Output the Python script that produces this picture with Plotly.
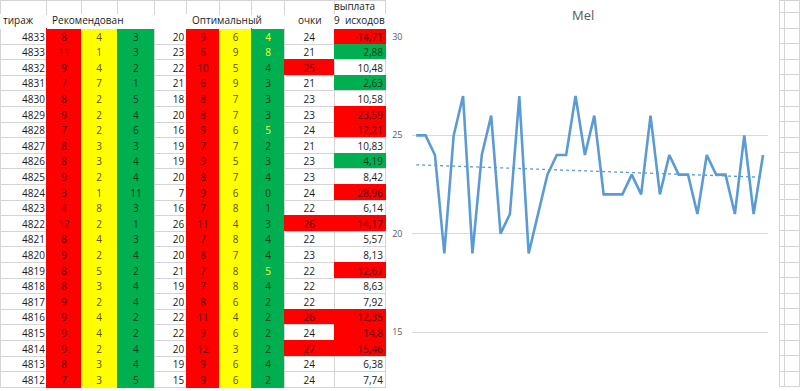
import numpy as np
import plotly.graph_objects as go

# ---------------- data ----------------
tirazh = [4833, 4833, 4832, 4831, 4830, 4829, 4828, 4827, 4826, 4825, 4824, 4823,
          4822, 4821, 4820, 4819, 4818, 4817, 4816, 4815, 4814, 4813, 4812]
rec_red = [8, 11, 9, 7, 8, 9, 7, 8, 8, 9, 3, 4, 12, 8, 9, 8, 8, 9, 9, 9, 9, 8, 7]
rec_yellow = [4, 1, 4, 7, 2, 2, 2, 3, 3, 2, 1, 8, 2, 4, 2, 5, 3, 2, 4, 4, 2, 3, 3]
rec_green = [3, 3, 2, 1, 5, 4, 6, 3, 4, 4, 11, 3, 1, 3, 4, 2, 4, 4, 2, 2, 4, 4, 5]
rec_points = [20, 23, 22, 21, 18, 20, 16, 19, 19, 20, 7, 16, 26, 20, 20, 21, 19, 20, 22, 22, 20, 19, 15]
opt_red = [9, 6, 10, 6, 8, 8, 9, 7, 9, 8, 9, 7, 11, 7, 8, 7, 7, 8, 11, 9, 12, 9, 9]
opt_yellow = [6, 9, 5, 9, 7, 7, 6, 7, 5, 7, 6, 8, 4, 8, 7, 8, 8, 6, 4, 6, 3, 6, 6]
opt_green = [4, 8, 4, 3, 3, 3, 5, 2, 3, 4, 0, 1, 3, 4, 4, 5, 4, 2, 2, 2, 2, 4, 2]
opt_green_marked = [0, 1, 6, 15]
ochki = [24, 21, 25, 21, 23, 23, 24, 21, 23, 23, 24, 22, 26, 22, 23, 22, 22, 22, 26, 24, 27, 24, 24]
vyplata = [14.71, 2.88, 10.48, 2.63, 10.58, 23.59, 12.21, 10.83, 4.19, 8.42, 28.96, 6.14,
           14.17, 5.57, 8.13, 12.67, 8.63, 7.92, 12.35, 14.8, 15.46, 6.38, 7.74]
header_labels = ["тираж", "Рекомендован", "Оптимальный", "очки", "9\u00a0 исходов", "выплата"]

mel = [25, 25, 24, 19, 25, 27, 19, 24, 26, 20, 21, 27, 19, 21, 23, 24, 24, 27, 24, 26,
       22, 22, 22, 23, 22, 26, 22, 24, 23, 23, 21, 24, 23, 23, 21, 25, 21, 24]
y_ticks = [15, 20, 25, 30]
chart_title = "Mel"

# ---------------- styles ----------------
W, H = 800, 391
RED, YEL, GRN, WHITE = "#FF0000", "#FFFF00", "#00B050", "#FFFFFF"
CLEAR = "rgba(0,0,0,0)"
GRID = "#D4D4D4"
T_RED, T_YEL, T_GRN, T_DARK = "#5C0000", "#5A5000", "#0A3A18", "#1A1A1A"
FONT = "Open Sans"

n = len(tirazh)


def fmt(v):
    return f"{v:g}".replace(".", ",")


def col(color):
    return [color] * n


ochki_fill = [RED if v >= 25 else WHITE for v in ochki]
ochki_text = [T_RED if v >= 25 else T_DARK for v in ochki]
vyp_fill = [RED if v > 12 else (GRN if v < 5 else WHITE) for v in vyplata]
vyp_text = [T_RED if v > 12 else (T_GRN if v < 5 else T_DARK) for v in vyplata]
opt_green_text = ["#FFFF33" if i in opt_green_marked else T_GRN for i in range(n)]

fills = [col(WHITE), col(RED), col(YEL), col(GRN), col(WHITE), col(RED), col(YEL), col(GRN),
         ochki_fill, vyp_fill]
lines = [[GRID if c == WHITE else c for c in f] for f in fills]
texts = [col(T_DARK), col(T_RED), col(T_YEL), col(T_GRN), col(T_DARK), col(T_RED), col(T_YEL),
         opt_green_text, ochki_text, vyp_text]
values = [tirazh, rec_red, rec_yellow, rec_green, rec_points, opt_red, opt_yellow, opt_green,
          ochki, [fmt(v) for v in vyplata]]

# spreadsheet column edges (px)
bounds = [0, 47, 81.3, 117.3, 155, 186.7, 220, 252, 285, 334.7, 386.5]
widths = [b - a for a, b in zip(bounds[:-1], bounds[1:])]
# text-layer column edges, chosen so text lands where the spreadsheet puts it
tbounds = [0, 53, 75.3, 123.3, 149, 192.5, 214.2, 257.8, 279.2, 340.5, 391.7]
twidths = [b - a for a, b in zip(tbounds[:-1], tbounds[1:])]
aligns = ["right", "center", "center", "center", "right", "center", "center", "center", "center", "right"]

ROW_H = 15.6
HEAD_H = 14.25
TEXT_SHIFT = 3.5

fig = go.Figure()

# cell backgrounds and gridlines
fig.add_trace(go.Table(
    domain=dict(x=[0, bounds[-1] / W], y=[0, 1]),
    columnwidth=widths,
    header=dict(values=[["", ""] for _ in values], height=HEAD_H,
                fill=dict(color=WHITE),
                line=dict(color=[[GRID, CLEAR] for _ in values], width=1)),
    cells=dict(values=[[""] * n for _ in values], height=ROW_H,
               fill=dict(color=fills),
               line=dict(color=lines, width=1)),
))

# cell texts
fig.add_trace(go.Table(
    domain=dict(x=[0, tbounds[-1] / W], y=[0, 1]),
    columnwidth=twidths,
    header=dict(values=["" for _ in values], height=2 * HEAD_H - TEXT_SHIFT,
                fill=dict(color=CLEAR), line=dict(color=CLEAR, width=0)),
    cells=dict(values=values, height=ROW_H, align=aligns,
               fill=dict(color=CLEAR), line=dict(color=CLEAR, width=0),
               font=dict(family=FONT, size=10, color=texts)),
))

# spreadsheet strip to the right of the chart
fig.add_trace(go.Table(
    domain=dict(x=[779 / W, 1], y=[0, 1]),
    columnwidth=[5.5, 15.5],
    header=dict(values=["", ""], height=12.5, fill=dict(color=WHITE), line=dict(color=GRID, width=1)),
    cells=dict(values=[[""] * 24, [""] * 24], height=ROW_H, fill=dict(color=WHITE),
               line=dict(color=GRID, width=1)),
))

# chart
x = list(range(len(mel)))
fig.add_trace(go.Scatter(x=x, y=mel, mode="lines", line=dict(color="#5B9BD5", width=2.6),
                         hoverinfo="skip", showlegend=False))
k, b = np.polyfit(x, mel, 1)
trend = [k * xi + b for xi in x]
fig.add_trace(go.Scatter(x=x, y=trend, mode="lines",
                         line=dict(color="#5B9BD5", width=1.3, dash="dot"),
                         hoverinfo="skip", showlegend=False))

fig.update_xaxes(domain=[411.5 / W, 767.7 / W], range=[-0.5, len(mel) - 0.5], visible=False,
                 automargin=False)
fig.update_yaxes(domain=[0, 1 - 37 / H], range=[12, 30], tickvals=y_ticks, showgrid=True,
                 gridcolor="#D9D9D9", gridwidth=1, zeroline=False, showline=False, ticks="",
                 tickfont=dict(family=FONT, size=9, color="#595959"), ticklabelstandoff=8,
                 automargin=False)


def ann(text, px, py, anchor="left", size=10, color=T_DARK):
    return dict(text=text, x=px / W, y=1 - py / H, xref="paper", yref="paper",
                xanchor=anchor, yanchor="middle", showarrow=False,
                font=dict(family=FONT, size=size, color=color))


fig.update_layout(
    width=W, height=H, margin=dict(l=0, r=0, t=0, b=0, autoexpand=False),
    paper_bgcolor=WHITE, plot_bgcolor=WHITE,
    annotations=[
        ann(header_labels[0], 0.5, 20.5),
        ann(header_labels[1], 50, 20.5),
        ann(header_labels[2], 190, 20.5),
        ann(header_labels[3], 310, 20.5, anchor="center"),
        ann(header_labels[4], 332, 20.5),
        ann(header_labels[5], 332, 6),
        ann(chart_title, 583, 15, anchor="center", size=13, color="#595959"),
    ],
)

fig.write_html("out.html", post_script="document.body.style.margin='0px';",
               config={"displayModeBar": False})
